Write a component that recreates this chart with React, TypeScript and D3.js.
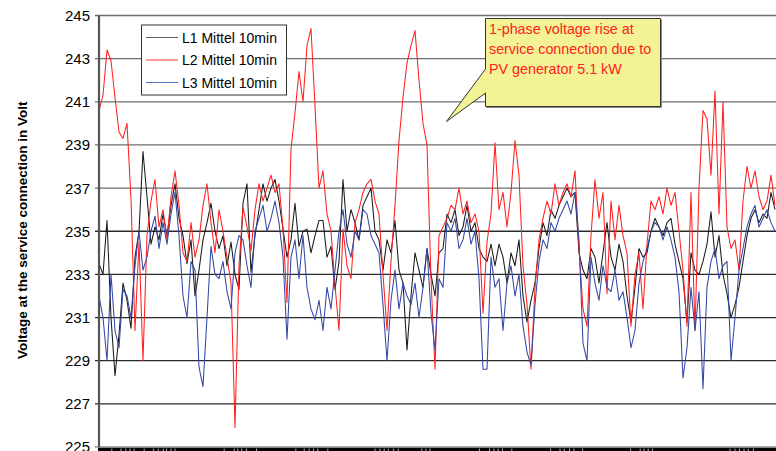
import React from "react";
import * as d3 from "d3";

const yTicks = [225, 227, 229, 231, 233, 235, 237, 239, 241, 243, 245];

const L1 = [
  233.5, 233.0, 235.5, 231.0, 228.3, 230.2, 232.6, 231.8, 230.5, 233.8,
  235.0, 238.7, 236.6, 234.4, 235.2, 234.6, 235.8, 234.8, 236.2, 237.2,
  235.6, 234.8, 233.5, 234.6, 232.0, 233.2, 234.6, 235.4, 236.3, 235.0,
  234.2, 234.8, 233.4, 234.5, 233.0, 232.3, 236.3, 237.2, 233.1, 234.8,
  236.0, 237.2, 236.4, 237.0, 237.4, 236.4, 235.1, 233.8, 234.6, 236.3,
  234.3, 235.0, 235.1, 234.0, 234.8, 235.5, 235.5, 233.8, 234.3, 232.3,
  233.6, 237.4, 235.0, 236.0, 235.4, 234.6, 236.2, 236.6, 237.0, 235.0,
  234.6, 233.2, 234.6, 234.0, 235.5, 233.2, 232.6, 229.5, 232.0, 234.0,
  233.2, 232.4, 234.2, 233.0, 232.0, 234.0, 234.2, 235.8, 235.4, 236.0,
  234.8, 235.2, 236.2, 235.0, 235.4, 234.2, 233.8, 233.6, 234.4, 233.4,
  234.4, 233.8, 232.6, 234.0, 233.4, 234.6, 232.0, 230.8, 231.8, 232.6,
  234.2, 235.4, 234.8, 236.0, 235.6, 236.2, 236.6, 237.0, 236.6, 236.8,
  234.0, 233.2, 232.8, 234.2, 233.8, 232.6, 234.0, 235.4, 233.8, 233.2,
  234.4, 233.6, 232.0, 230.8, 232.4, 234.2, 233.8, 234.0, 235.0, 235.6,
  235.2, 234.8, 235.4, 235.6, 234.4, 233.6, 232.8, 230.8, 234.0, 233.2,
  233.0, 233.6, 234.4, 235.9, 233.8, 234.8, 233.0, 232.1, 231.0, 231.6,
  232.4, 233.6, 234.8, 235.6, 236.0, 235.4, 235.8, 235.6, 236.8, 236.0,
];

const L2 = [
  240.6, 241.3, 243.4, 242.9, 241.2, 239.6, 239.3, 240.0, 236.5, 230.4,
  234.5, 229.0, 234.8, 236.4, 237.4, 235.2, 236.0, 234.6, 236.6, 237.8,
  236.2, 234.0, 233.6, 235.4, 233.8, 234.6, 236.2, 237.2, 235.4, 234.0,
  236.0, 235.0, 233.8, 232.6, 225.9, 233.4, 236.1, 235.2, 234.1, 236.0,
  237.2, 236.4, 237.0, 237.6, 236.8, 237.2, 235.1, 231.7, 238.8, 240.5,
  242.4, 241.0, 243.6, 244.4, 240.8, 237.0, 237.8, 235.8, 235.0, 232.5,
  230.4, 235.1, 233.4, 232.8, 235.4, 236.0, 236.8, 237.2, 237.4, 236.4,
  235.8, 233.0, 230.4, 233.6, 236.2, 239.2, 241.2, 242.8, 243.6, 244.3,
  242.0, 240.0, 239.0, 232.8, 228.6, 234.8, 235.2, 235.6, 236.2, 236.0,
  237.0, 235.8, 236.4, 235.4, 235.8, 235.0, 231.2, 234.5, 235.8, 239.1,
  236.0, 236.8, 235.2, 236.8, 239.2, 237.6, 233.4, 231.6, 228.6, 232.4,
  234.6, 235.6, 236.4, 235.8, 237.2, 236.2, 236.8, 237.2, 236.6, 237.8,
  234.2, 231.4, 230.6, 234.8, 237.4, 235.6, 236.8, 232.1, 236.4, 234.6,
  236.2, 234.8, 234.0, 230.6, 233.0, 234.0, 231.4, 234.4, 236.4, 236.0,
  236.6, 235.8, 237.0, 236.2, 236.8, 235.0, 233.2, 230.6, 236.8, 230.4,
  237.0, 240.6, 240.2, 237.6, 241.5, 235.8, 241.0, 235.2, 234.2, 234.6,
  233.2, 236.4, 238.0, 237.0, 237.8, 236.6, 236.0, 236.4, 237.6, 236.2,
];

const L3 = [
  232.0, 231.0, 229.0, 233.0, 230.4, 229.6, 232.3, 232.0, 231.0, 233.4,
  235.0, 233.2, 233.8, 235.0, 235.7, 234.2, 235.4, 234.4, 235.8, 236.8,
  234.8, 232.0, 231.0, 233.6, 233.2, 228.7, 227.8, 231.0, 234.3, 233.0,
  232.8, 233.6, 232.2, 231.4, 234.0, 234.8, 234.6, 233.4, 232.4, 235.0,
  235.6, 236.2, 235.0, 235.6, 236.4, 235.4, 233.8, 230.0, 233.8, 234.6,
  232.8, 234.8, 232.4, 231.4, 230.9, 231.8, 230.4, 232.4, 231.4, 233.2,
  235.0, 236.0, 234.4, 233.8, 235.0, 234.6, 236.0, 235.8, 234.8, 234.4,
  234.0, 231.6, 229.0, 231.8, 233.2, 231.4, 232.6, 232.0, 231.6, 232.6,
  231.0, 232.4, 234.2, 231.2, 229.5, 232.8, 232.4, 235.4, 235.0, 235.6,
  234.2, 234.6, 235.6, 234.4, 235.0, 232.8, 228.6, 228.6, 233.8, 232.4,
  232.8, 230.4, 232.6, 233.4, 232.0, 233.0, 230.6, 229.4, 228.8, 231.6,
  233.6, 234.6, 234.2, 235.4, 235.0, 235.6, 236.0, 236.4, 235.8, 236.8,
  234.6, 229.8, 229.0, 233.8, 232.6, 231.8, 233.4, 232.4, 232.2, 233.2,
  231.8, 232.2, 231.0, 229.6, 230.4, 232.6, 233.6, 234.2, 235.0, 235.4,
  235.2, 234.6, 235.2, 234.6, 233.8, 232.2, 228.2, 229.6, 232.4, 230.4,
  232.2, 227.7, 232.4, 233.6, 234.2, 232.8, 233.4, 233.6, 229.0, 231.0,
  233.2, 234.2, 235.2, 235.8, 236.2, 235.2, 235.6, 236.0, 235.4, 235.0,
];

const seriesNames = ["L1 Mittel 10min", "L2 Mittel 10min", "L3 Mittel 10min"];
const seriesColors = ["#1a1a1a", "#ff2020", "#3347a8"];
const legendColors = ["#606060", "#ff3030", "#5570c0"];

// positions (in sample index units) of the light tick gaps on the category axis
const axisMarks = [
  3.2, 5.5, 6.7, 7.75, 8.8, 11.3, 13.6, 14.8, 16.1, 16.9, 18, 19,
  31.3, 33.8, 34.7, 35.7, 36.9, 39.4, 49.2, 51.3, 52.5, 53.6, 54.7, 57.2,
  69, 70.25, 71.3, 72.3, 73.6, 74.8, 80.7, 81.7, 82.75,
  95.1, 97.6, 98.75, 99.8, 100.9, 103.2, 112.9, 115.25, 116.3, 117.6, 118.75, 120.9,
  132.9, 135.3, 136.25, 137.3, 138.4, 157.75, 159, 160.1, 161.25, 162.3, 163.6,
];

const calloutLines = [
  "1-phase voltage rise at",
  "service connection due to",
  "PV generator 5.1 kW",
];

const W = 776;
const H = 451;
const left = 99;
const right = 776;
const top = 15.5;
const bottom = 447;

export default function App() {
  const series = [L1, L2, L3];
  const n = L1.length;
  const x = d3.scaleLinear().domain([0, n - 1]).range([left, left + 4 * (n - 1)]);
  const y = d3.scaleLinear().domain([225, 245]).range([bottom, top]);
  const line = d3
    .line<number>()
    .x((_, i) => x(i))
    .y((d) => y(d));

  const font = "Arial, 'Liberation Sans', sans-serif";

  return (
    <svg
      width={W}
      height={H}
      style={{ position: "fixed", left: 0, top: 0, background: "#fff" }}
      fontFamily={font}
    >
      <defs>
        <clipPath id="plot">
          <rect x={left} y={top - 2} width={right - left} height={bottom - top + 4} />
        </clipPath>
      </defs>
      <rect x={0} y={0} width={W} height={H} fill="#fff" />
      {yTicks.map((t) => (
        <line
          key={t}
          x1={left - 4}
          x2={right}
          y1={y(t)}
          y2={y(t)}
          stroke={t >= 237 ? "#6e6e6e" : "#2a2a2a"}
          strokeWidth={t === 225 ? 0 : 1.3}
        />
      ))}
      {yTicks.map((t) => (
        <text
          key={"l" + t}
          x={90}
          y={y(t)}
          dy="0.36em"
          textAnchor="end"
          fontSize={15}
          fill="#000"
        >
          {t}
        </text>
      ))}
      <text
        transform={`translate(27,${(top + bottom) / 2 - 1}) rotate(-90)`}
        textAnchor="middle"
        fontSize={13.5}
        fontWeight="bold"
        fill="#000"
      >
        Voltage at the service connection in Volt
      </text>
      <g clipPath="url(#plot)">
        {series.map((s, k) => (
          <path
            key={k}
            d={line(s) || ""}
            fill="none"
            stroke={seriesColors[k]}
            strokeWidth={1.05}
            strokeLinejoin="round"
          />
        ))}
      </g>
      <line x1={left} x2={left} y1={top} y2={bottom} stroke="#555" strokeWidth={2.2} />
      <line x1={left - 4} x2={right} y1={bottom} y2={bottom} stroke="#555" strokeWidth={1.2} />
      <rect x={left - 1} y={bottom + 0.8} width={right - left + 1} height={H - bottom} fill="#000" />
      {axisMarks.map((m, i) => (
        <line
          key={"m" + i}
          x1={x(m)}
          x2={x(m)}
          y1={bottom + 1.5}
          y2={H}
          stroke="#d8d8d8"
          strokeWidth={0.8}
        />
      ))}
      <rect x={141.5} y={25} width={145} height={70} fill="#fff" stroke="#333" strokeWidth={1} />
      {seriesNames.map((nm, k) => (
        <g key={nm}>
          <line
            x1={146}
            x2={178}
            y1={37.5 + k * 22.5}
            y2={37.5 + k * 22.5}
            stroke={legendColors[k]}
            strokeWidth={1}
          />
          <text x={182} y={37.5 + k * 22.5} dy="0.36em" fontSize={14} fill="#000">
            {nm}
          </text>
        </g>
      ))}
      <path
        d="M485.5,18.5 L660.5,18.5 L660.5,106.5 L485.5,106.5 L485.5,93 L446.5,121.5 L485.5,69 Z"
        fill="#f3f396"
        stroke="#333"
        strokeWidth={1}
      />
      <line x1={661.5} y1={19.5} x2={661.5} y2={107.5} stroke="#888" strokeWidth={1} />
      <line x1={486.5} y1={107.5} x2={661.5} y2={107.5} stroke="#888" strokeWidth={1} />
      {calloutLines.map((t, i) => (
        <text key={t} x={489} y={28.5 + i * 20} dy="0.36em" fontSize={14.3} fill="#ff2020">
          {t}
        </text>
      ))}
    </svg>
  );
}
